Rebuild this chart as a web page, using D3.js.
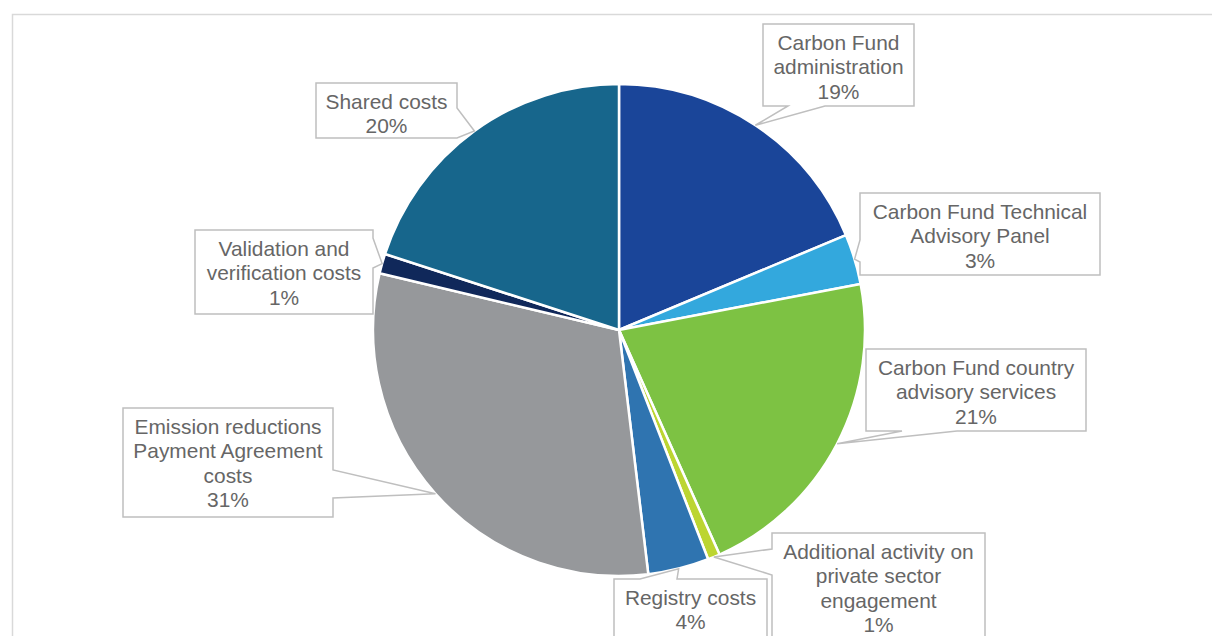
<!DOCTYPE html>
<html>
<head>
<meta charset="utf-8">
<script src="https://cdn.jsdelivr.net/npm/d3@7"></script>
<style>
  html, body { margin: 0; padding: 0; background: #ffffff; }
  svg { display: block; }
</style>
</head>
<body>
<svg id="chart" width="1212" height="636"></svg>
<script>
// Carbon Fund budget breakdown (share of total, %)
const categories = [
  "Carbon Fund\nadministration",
  "Carbon Fund Technical\nAdvisory Panel",
  "Carbon Fund country\nadvisory services",
  "Additional activity on\nprivate sector\nengagement",
  "Registry costs",
  "Emission reductions\nPayment Agreement\ncosts",
  "Validation and\nverification costs",
  "Shared costs"
];
const shares = [18.7, 3.3, 21.3, 0.8, 4.0, 30.6, 1.3, 20.0];
const colors = ["#1a4599", "#33a8dd", "#7dc243", "#bcd531", "#2f74b0", "#96989b", "#10285a", "#17668c"];

// callout boxes: [left, top, right, bottom], the side carrying the pointer, and where the pointer leaves that side
const callouts = [
  { box: [763, 24, 914, 106],  side: "bottom", base: [788, 825] },
  { box: [860, 193, 1100, 275], side: "left",  base: [240, 262] },
  { box: [866, 349, 1086, 431], side: "bottom", base: [902, 957] },
  { box: [772, 533, 985, 660], side: "left",  base: [549, 575] },
  { box: [614, 579, 767, 660], side: "top",   base: [640, 677] },
  { box: [123, 408, 333, 517], side: "right", base: [470, 498] },
  { box: [195, 230, 373, 314], side: "right", base: [238, 268] },
  { box: [316, 83, 457, 138],  side: "right", base: [108, 138] }
];

const svg = d3.select("#chart");
const cx = 619, cy = 330, radius = 246;
const fontSize = 20.9, lineH = 24.3;

// chart area frame
svg.append("path")
  .attr("d", "M12.5,636 L12.5,14.5 L1212,14.5")
  .attr("fill", "none")
  .attr("stroke", "#d9d9d9")
  .attr("stroke-width", 1.5);

const pie = d3.pie().sort(null).value(d => d.value).startAngle(0).endAngle(2 * Math.PI);
const data = categories.map((c, i) => ({ name: c, value: shares[i], color: colors[i], callout: callouts[i] }));
const arcs = pie(data);

const arc = d3.arc().innerRadius(0).outerRadius(radius);

const g = svg.append("g").attr("transform", `translate(${cx},${cy})`);
g.selectAll("path.slice")
  .data(arcs)
  .join("path")
  .attr("class", "slice")
  .attr("d", arc)
  .attr("fill", d => d.data.color)
  .attr("stroke", "#ffffff")
  .attr("stroke-width", 2.5)
  .attr("stroke-linejoin", "round");

// callout outline with a pointer to the slice's outer edge
function calloutPath(c, tip) {
  const [x0, y0, x1, y1] = c.box;
  const [b1, b2] = c.base;
  const t = `L${tip[0]},${tip[1]}`;
  let p = `M${x0},${y0}`;
  if (c.side === "top") p += `L${b1},${y0}${t}L${b2},${y0}`;
  p += `L${x1},${y0}`;
  if (c.side === "right") p += `L${x1},${b1}${t}L${x1},${b2}`;
  p += `L${x1},${y1}`;
  if (c.side === "bottom") p += `L${b2},${y1}${t}L${b1},${y1}`;
  p += `L${x0},${y1}`;
  if (c.side === "left") p += `L${x0},${b2}${t}L${x0},${b1}`;
  return p + "Z";
}

const labels = svg.append("g");
arcs.forEach(d => {
  const c = d.data.callout;
  const mid = (d.startAngle + d.endAngle) / 2;
  const tip = [cx + radius * Math.sin(mid), cy - radius * Math.cos(mid)];
  labels.append("path")
    .attr("d", calloutPath(c, tip))
    .attr("fill", "#ffffff")
    .attr("stroke", "#bfbfbf")
    .attr("stroke-width", 1.5)
    .attr("stroke-linejoin", "miter");

  const lines = d.data.name.split("\n").concat([Math.round(d.data.value) + "%"]);
  const [x0, y0, x1] = c.box;
  const tx = (x0 + x1) / 2;
  const firstY = y0 + 18.5;
  const text = labels.append("text")
    .attr("text-anchor", "middle")
    .attr("font-family", "Liberation Sans, Arial, sans-serif")
    .attr("font-size", fontSize)
    .attr("fill", "#666666");
  lines.forEach((ln, i) => {
    text.append("tspan")
      .attr("x", tx)
      .attr("y", firstY + i * lineH)
      .attr("dominant-baseline", "central")
      .text(ln);
  });
});
</script>
</body>
</html>
